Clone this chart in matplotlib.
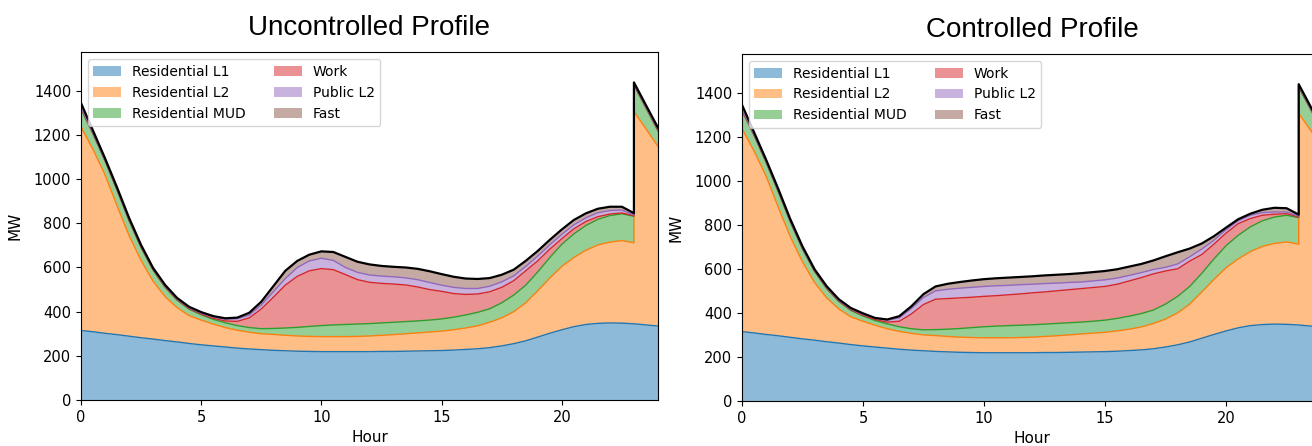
import numpy as np
import matplotlib
matplotlib.use('Agg')
import matplotlib.pyplot as plt

# half-hour grid, hour 23 repeated for the step-up at the end of the day
hours = list(np.arange(0, 23.5, 0.5)) + [23, 23.5, 24]

# upper edge of each stacked layer (MW)
top_res_l1 = [315, 309, 302, 296, 289, 282, 276, 269, 263, 256, 250, 245, 240, 235, 231, 228,
              225, 223, 221, 220, 219, 219, 219, 219, 219, 220, 220, 221, 222, 223, 224, 226,
              229, 232, 237, 245, 255, 268, 285, 302, 318, 332, 342, 347, 349, 348, 345,
              345, 340, 335]
top_res_l2 = [1237, 1135, 1020, 880, 745, 632, 538, 468, 418, 382, 362, 344, 328, 316, 307, 300,
              297, 293, 290, 288, 287, 287, 287, 288, 290, 293, 296, 300, 304, 308, 312, 318,
              326, 336, 352, 372, 400, 440, 495, 552, 605, 645, 678, 702, 715, 722, 712,
              1306, 1228, 1148]
top_res_mud = [1318, 1205, 1083, 950, 812, 690, 588, 510, 452, 411, 386, 365, 350, 337, 328, 323,
               324, 326, 329, 333, 337, 340, 342, 344, 346, 349, 352, 355, 358, 362, 367, 375,
               385, 397, 413, 440, 475, 520, 580, 645, 705, 752, 790, 818, 835, 843, 832,
               1425, 1322, 1218]

# uncontrolled
unc_work = [1320, 1207, 1085, 952, 814, 692, 590, 512, 454, 414, 389, 370, 358, 356, 372, 412,
            465, 520, 560, 585, 595, 590, 568, 545, 533, 528, 525, 521, 512, 500, 492, 482,
            478, 480, 490, 510, 540, 585, 630, 683, 730, 775, 808, 830, 842, 847, 834,
            1427, 1324, 1220]
unc_public = [1324, 1210, 1088, 955, 817, 695, 593, 515, 457, 417, 393, 376, 366, 368, 385, 430,
              490, 550, 600, 630, 642, 632, 600, 578, 566, 561, 558, 553, 545, 532, 520, 510,
              505, 505, 515, 535, 562, 605, 652, 703, 750, 793, 825, 848, 858, 860, 838,
              1430, 1327, 1224]
unc_fast = [1345, 1220, 1095, 963, 825, 702, 598, 521, 462, 422, 398, 380, 370, 373, 395, 445,
            515, 585, 630, 658, 673, 670, 648, 626, 614, 607, 603, 600, 594, 583, 570, 558,
            550, 548, 552, 567, 590, 630, 675, 725, 772, 815, 845, 866, 875, 875, 846,
            1438, 1335, 1233]

# controlled
ctl_work = [1320, 1207, 1085, 952, 814, 692, 590, 512, 454, 414, 389, 370, 358, 362, 395, 438,
            462, 465, 468, 471, 475, 478, 482, 486, 491, 495, 500, 505, 510, 515, 520, 530,
            545, 560, 577, 590, 600, 635, 665, 712, 762, 805, 828, 843, 848, 850, 835,
            1427, 1324, 1220]
ctl_public = [1324, 1210, 1088, 955, 817, 695, 593, 515, 457, 417, 393, 376, 366, 378, 420, 470,
              500, 507, 512, 516, 520, 523, 525, 528, 530, 533, 535, 538, 540, 545, 550, 558,
              570, 583, 597, 607, 622, 655, 690, 730, 778, 818, 843, 855, 858, 858, 839,
              1430, 1327, 1224]
ctl_fast = [1345, 1220, 1095, 963, 825, 702, 598, 521, 462, 422, 398, 377, 370, 385, 430, 485,
            520, 532, 540, 547, 553, 557, 560, 563, 566, 570, 573, 576, 580, 585, 590, 598,
            610, 622, 638, 657, 675, 692, 715, 748, 787, 825, 850, 868, 877, 875, 846,
            1438, 1335, 1233]

labels = ['Residential L1', 'Residential L2', 'Residential MUD', 'Work', 'Public L2', 'Fast']
colors = ['#1f77b4', '#ff7f0e', '#2ca02c', '#d62728', '#9467bd', '#8c564b']

plt.rcParams['font.family'] = 'DejaVu Sans'

fig = plt.figure(figsize=(13.12, 4.46), dpi=100)
ax1 = fig.add_axes([0.0617, 0.1031, 0.4398, 0.780])
ax2 = fig.add_axes([0.5655, 0.1009, 0.4428, 0.778])


def draw(ax, tops, title):
    lower = np.zeros(len(hours))
    for top, lab, col in zip(tops, labels, colors):
        top = np.array(top, dtype=float)
        ax.fill_between(hours, lower, top, color=col, alpha=0.5, linewidth=0, label=lab)
        if lab != 'Fast':
            ax.plot(hours, top, color=col, linewidth=1)
        lower = top
    ax.plot(hours, tops[-1], color='k', linewidth=1.6)
    ax.set_xlim(0, 24)
    ax.set_ylim(0, 1575)
    ax.set_xticks([0, 5, 10, 15, 20])
    ax.set_yticks(range(0, 1401, 200))
    ax.tick_params(labelsize=10.5)
    ax.set_xlabel('Hour', fontsize=11)
    ax.set_ylabel('MW', fontsize=11, labelpad=8)
    ax.set_title(title, fontsize=20, family='Liberation Sans', pad=12)
    ax.legend(loc='upper left', ncol=2, fontsize=10)


draw(ax1, [top_res_l1, top_res_l2, top_res_mud, unc_work, unc_public, unc_fast], 'Uncontrolled Profile')
draw(ax2, [top_res_l1, top_res_l2, top_res_mud, ctl_work, ctl_public, ctl_fast], 'Controlled Profile')

plt.savefig('out.png', dpi=100)
plt.close()
